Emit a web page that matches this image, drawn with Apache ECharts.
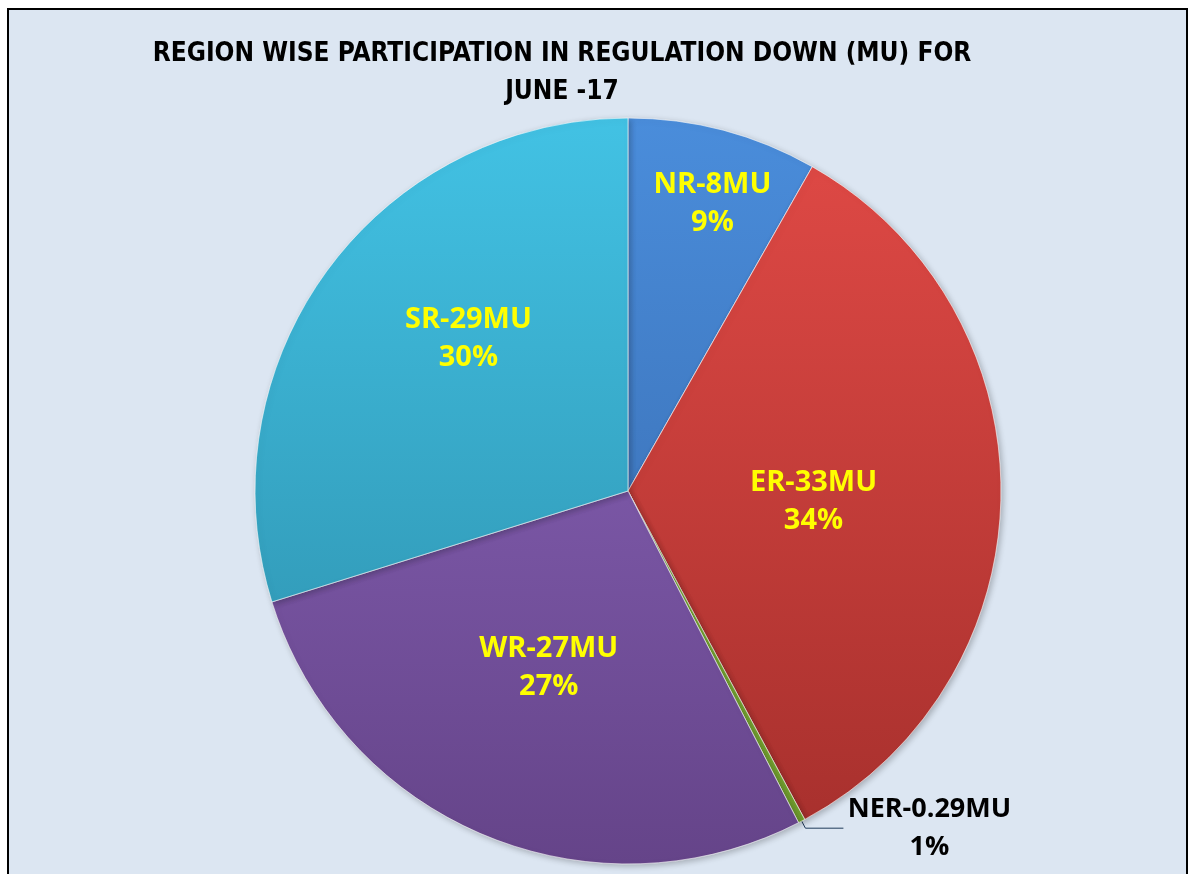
<!DOCTYPE html>
<html>
<head>
<meta charset="utf-8">
<script src="https://cdn.jsdelivr.net/npm/echarts@6/dist/echarts.min.js"></script>
<style>
  html, body { margin: 0; padding: 0; background: #ffffff; }
  #chart { width: 1189px; height: 874px; }
</style>
</head>
<body>
<div id="chart"></div>
<script>
// region wise regulation down, June-17
var regions = ['NR', 'ER', 'NER', 'WR', 'SR'];
var energyMU = [8, 33, 0.29, 27, 29];
var energyText = ['8MU', '33MU', '0.29MU', '27MU', '29MU'];
var percentText = ['9%', '34%', '1%', '27%', '30%'];

// top / bottom shades for each slice
var topColors = ['#4a8ddb', '#e14a46', '#9bd44a', '#8e68c0', '#42c2e4'];
var bottomColors = ['#3464a6', '#a52f2c', '#6f9c2c', '#654489', '#2b8aa6'];

// nudge of the inside labels (excel "best fit" puts them a bit off r/2)
var labelShift = [[36, -104], [-4, 9], [0, 0], [-6, 2], [-7, -40]];

var cx = 628, cy = 491, r = 373;

function shade(i) {
  return new echarts.graphic.LinearGradient(0, cy - r, 0, cy + r, [
    { offset: 0, color: topColors[i] },
    { offset: 1, color: bottomColors[i] }
  ], true);
}

var pieData = regions.map(function (name, i) {
  var item = {
    name: name,
    value: energyMU[i],
    itemStyle: { color: shade(i) }
  };
  if (name === 'NER') {
    item.label = {
      show: true,
      position: 'outside',
      formatter: '{a|NER-0.29MU}\n{a|1%}',
      distanceToLabelLine: 0,
      rich: {
        a: {
          width: 172,
          align: 'center',
          color: '#000000',
          fontFamily: '"Open Sans", "Noto Sans", sans-serif',
          fontWeight: 'bold',
          fontSize: 27,
          lineHeight: 38
        }
      }
    };
    item.labelLine = {
      show: true,
      length: 8,
      length2: 38,
      lineStyle: { color: '#1f3a5a', width: 1 }
    };
  }
  return item;
});

var myChart = echarts.init(document.getElementById('chart'));

var option = {
  backgroundColor: '#ffffff',
  graphic: [{
    type: 'rect',
    silent: true,
    z: -10,
    shape: { x: 8, y: 9, width: 1179, height: 880 },
    style: { fill: '#dce6f2', stroke: '#000000', lineWidth: 2 }
  }],
  title: {
    text: 'REGION WISE PARTICIPATION IN REGULATION DOWN (MU) FOR\nJUNE -17',
    left: 557,
    top: 30,
    textAlign: 'center',
    textStyle: {
      fontFamily: '"Liberation Sans Narrow", "DejaVu Sans Condensed", "Open Sans", sans-serif',
      fontWeight: 'bold',
      fontSize: 26,
      lineHeight: 38,
      color: '#000000'
    }
  },
  series: [{
    type: 'pie',
    center: [cx, cy],
    radius: [0, r],
    startAngle: 90,
    clockwise: true,
    avoidLabelOverlap: false,
    itemStyle: {
      borderColor: 'rgba(255,255,255,0.35)',
      borderWidth: 1,
      shadowBlur: 6,
      shadowColor: 'rgba(0,0,0,0.25)',
      shadowOffsetX: 2,
      shadowOffsetY: 2
    },
    label: {
      show: true,
      position: 'inside',
      formatter: function (p) {
        return p.name + '-' + energyText[p.dataIndex] + '\n' + percentText[p.dataIndex];
      },
      fontFamily: '"Open Sans", "Noto Sans", sans-serif',
      fontWeight: 'bold',
      fontSize: 29,
      lineHeight: 38,
      color: '#ffff00'
    },
    labelLayout: function (params) {
      var s = labelShift[params.dataIndex];
      return { dx: s[0], dy: s[1] };
    },
    labelLine: { show: false },
    data: pieData
  }]
};

myChart.setOption(option);
</script>
</body>
</html>
